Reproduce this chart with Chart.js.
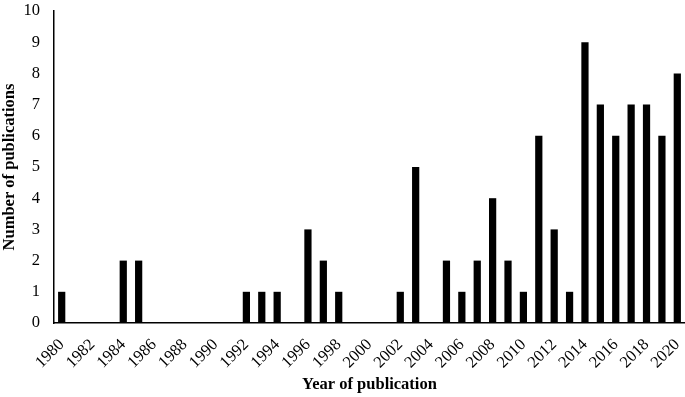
<!DOCTYPE html>
<html>
<head>
<meta charset="utf-8">
<script src="https://cdn.jsdelivr.net/npm/chart.js@4"></script>
<style>
  html, body { margin: 0; padding: 0; background: #fff; }
  #wrap { width: 685px; height: 397px; position: relative; }
</style>
</head>
<body>
<div id="wrap"><canvas id="grafico"></canvas></div>
<script>
// Anos de publicação (1980-2020)
const anos = [
  '1980', '1981', '1982', '1983', '1984', '1985', '1986', '1987', '1988', '1989',
  '1990', '1991', '1992', '1993', '1994', '1995', '1996', '1997', '1998', '1999',
  '2000', '2001', '2002', '2003', '2004', '2005', '2006', '2007', '2008', '2009',
  '2010', '2011', '2012', '2013', '2014', '2015', '2016', '2017', '2018', '2019',
  '2020'
];

// Número de publicações por ano
const publicacoes = [
  1, 0, 0, 0, 2, 2, 0, 0, 0, 0,
  0, 0, 1, 1, 1, 0, 3, 2, 1, 0,
  0, 0, 1, 5, 0, 2, 1, 2, 4, 2,
  1, 6, 3, 1, 9, 7, 6, 7, 7, 6,
  8
];

const ticksY = [0, 1, 2, 3, 4, 5, 6, 7, 8, 9, 10];

const fonteSerif = 'Liberation Serif, Times New Roman, serif';

const ctx = document.getElementById('grafico').getContext('2d');

new Chart(ctx, {
  type: 'bar',
  data: {
    labels: anos,
    datasets: [{
      data: publicacoes,
      backgroundColor: '#000',
      borderWidth: 0,
      barPercentage: 0.47,
      categoryPercentage: 1.0
    }]
  },
  options: {
    responsive: true,
    maintainAspectRatio: false,
    animation: false,
    layout: { padding: { top: 11, right: 0, left: 0, bottom: 0 } },
    plugins: {
      legend: { display: false },
      tooltip: { enabled: false }
    },
    scales: {
      x: {
        grid: { display: false, drawTicks: false },
        border: { color: '#000', width: 1.5 },
        ticks: {
          autoSkip: false,
          maxRotation: 45,
          minRotation: 45,
          padding: 12,
          color: '#000',
          font: { family: fonteSerif, size: 16.5 },
          callback: (valor, indice) => (indice % 2 === 0 ? anos[indice] : '')
        },
        title: {
          display: true,
          text: 'Year of publication',
          color: '#000',
          font: { family: fonteSerif, size: 16.5, weight: 'bold' },
          padding: { top: 2, bottom: 2 }
        },
        afterFit: (escala) => {
          escala.height = 74;
          escala.paddingRight = 0;
          escala.paddingLeft = 0;
        }
      },
      y: {
        min: 0,
        max: 10,
        grid: { display: false, drawTicks: false },
        border: { color: '#000', width: 1.5 },
        afterBuildTicks: (escala) => { escala.ticks = ticksY.map(v => ({ value: v })); },
        ticks: {
          padding: 14,
          color: '#000',
          font: { family: fonteSerif, size: 16.5 }
        },
        title: {
          display: true,
          text: 'Number of publications',
          color: '#000',
          font: { family: fonteSerif, size: 16.5, weight: 'bold' },
          padding: { top: 0, bottom: 3 }
        },
        afterFit: (escala) => {
          escala.width = 54;
          escala.paddingTop = 0;
          escala.paddingBottom = 0;
        }
      }
    }
  }
});
</script>
</body>
</html>
